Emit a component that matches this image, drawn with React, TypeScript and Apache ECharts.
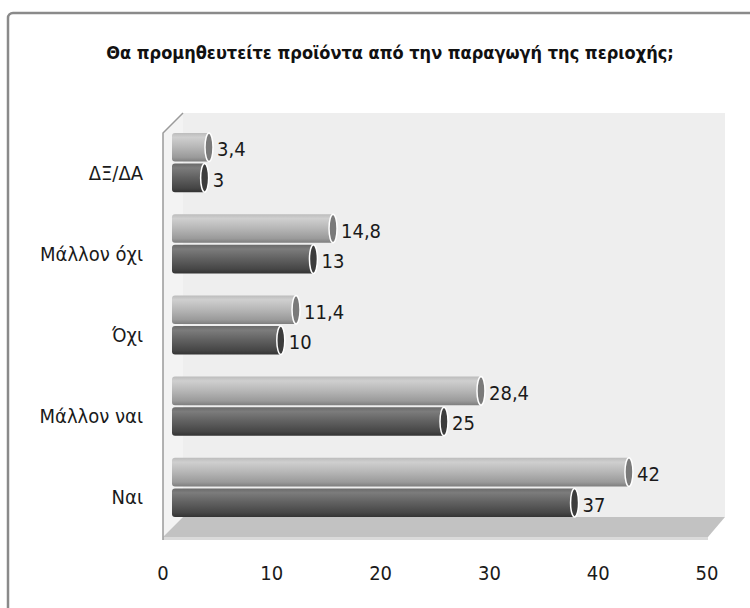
import React, { useEffect, useRef } from "react";
import * as echarts from "echarts";

const categories = ["ΔΞ/ΔΑ", "Μάλλον όχι", "Όχι", "Μάλλον ναι", "Ναι"];
const seriesLight = [3.4, 14.8, 11.4, 28.4, 42];
const seriesDark = [3, 13, 10, 25, 37];
const axisMin = 0;
const axisMax = 50;
const axisInterval = 10;
const titleText = "Θα προμηθευτείτε προϊόντα από την παραγωγή της περιοχής;";

const FONT = "'Liberation Sans Narrow', 'DejaVu Sans Condensed', 'Open Sans', sans-serif";

function fmt(v: number) {
  return String(v).replace(".", ",");
}

export default function App() {
  const ref = useRef<HTMLDivElement>(null);
  useEffect(() => {
    if (!ref.current) return;
    const chart = echarts.init(ref.current, null, { renderer: "svg" });

    const lightGrad = () =>
      new echarts.graphic.LinearGradient(0, 0, 0, 1, [
        { offset: 0, color: "#bcbcbc" },
        { offset: 0.15, color: "#cfcfcf" },
        { offset: 0.5, color: "#b6b6b6" },
        { offset: 0.85, color: "#9a9a9a" },
        { offset: 1, color: "#7e7e7e" },
      ]);
    const darkGrad = () =>
      new echarts.graphic.LinearGradient(0, 0, 0, 1, [
        { offset: 0, color: "#6a6a6a" },
        { offset: 0.15, color: "#7c7c7c" },
        { offset: 0.5, color: "#606060" },
        { offset: 0.85, color: "#464646" },
        { offset: 1, color: "#333333" },
      ]);

    const makeRender = (light: boolean) => (params: any, api: any) => {
      const v = api.value(0);
      const idx = api.value(1);
      const p0 = api.coord([0, idx]);
      const p1 = api.coord([v, idx]);
      const band = api.size([0, 1])[1];
      const h = band * 0.352;
      const y = light ? p0[1] - h - 1 : p0[1] + 1;
      const x0 = p0[0];
      const x1 = p1[0];
      return {
        type: "group",
        children: [
          {
            type: "rect",
            shape: { x: x0, y, width: x1 - x0, height: h, r: [3, 0, 0, 3] },
            style: { fill: light ? lightGrad() : darkGrad() },
          },
          {
            type: "ellipse",
            shape: { cx: x1, cy: y + h / 2, rx: 4, ry: h / 2 },
            style: { fill: light ? "#7a7a7a" : "#3c3c3c", stroke: "#ffffff", lineWidth: 1.5 },
          },
          {
            type: "text",
            style: {
              text: fmt(v),
              x: x1 + 8,
              y: y + h / 2 + 2,
              verticalAlign: "middle",
              align: "left",
              fill: "#1a1a1a",
              fontSize: 20,
              fontFamily: FONT,
            },
          },
        ],
      };
    };

    chart.setOption({
      animation: false,
      backgroundColor: "#ffffff",
      title: {
        text: titleText,
        left: 385,
        top: 38,
        textAlign: "center",
        textStyle: { fontSize: 18, fontWeight: "bold", color: "#111", fontFamily: FONT },
      },
      graphic: [
        {
          type: "rect",
          z: -10,
          shape: { x: 8, y: 13, width: 800, height: 700, r: 5 },
          style: { fill: "#ffffff", stroke: "#8a8a8a", lineWidth: 2.5 },
          silent: true,
        },
        {
          type: "rect",
          z: -9,
          shape: { x: 183, y: 113, width: 542, height: 404 },
          style: { fill: "#eeeeee" },
          silent: true,
        },
        {
          type: "polygon",
          z: -9,
          shape: { points: [[163, 133], [183, 113], [183, 517], [163, 537]] },
          style: { fill: "#f3f3f3" },
          silent: true,
        },
        {
          type: "polygon",
          z: -9,
          shape: { points: [[183, 517], [725, 517], [708, 537], [163, 537]] },
          style: { fill: "#c2c2c2" },
          silent: true,
        },
        {
          type: "rect",
          z: -9,
          shape: { x: 163, y: 537, width: 545, height: 3 },
          style: { fill: "#dadada" },
          silent: true,
        },
        {
          type: "polyline",
          z: -8,
          shape: { points: [[183, 113], [163, 133], [163, 540]] },
          style: { stroke: "#9a9a9a", lineWidth: 1.5, fill: "none" },
          silent: true,
        },
      ],
      grid: { left: 172, right: 34, top: 122, height: 406 },
      xAxis: {
        type: "value",
        min: axisMin,
        max: axisMax,
        interval: axisInterval,
        axisLine: { show: false },
        axisTick: { show: false },
        splitLine: { show: false },
        axisLabel: {
          fontSize: 20,
          color: "#1a1a1a",
          fontFamily: FONT,
          margin: 35,
          padding: [0, 18, 0, 0],
        },
      },
      yAxis: {
        type: "category",
        inverse: true,
        data: categories,
        axisLine: { show: false },
        axisTick: { show: false },
        splitLine: { show: false },
        axisLabel: {
          fontSize: 20,
          color: "#1a1a1a",
          fontFamily: FONT,
          margin: 29,
          verticalAlign: "top",
        },
      },
      series: [
        {
          type: "custom",
          name: "A",
          renderItem: makeRender(true),
          encode: { x: 0, y: 1 },
          data: seriesLight.map((v, i) => [v, i]),
        },
        {
          type: "custom",
          name: "B",
          renderItem: makeRender(false),
          encode: { x: 0, y: 1 },
          data: seriesDark.map((v, i) => [v, i]),
        },
      ],
    });
    return () => chart.dispose();
  }, []);
  return (
    <div
      ref={ref}
      style={{ position: "absolute", left: 0, top: 0, width: 750, height: 608 }}
    />
  );
}
